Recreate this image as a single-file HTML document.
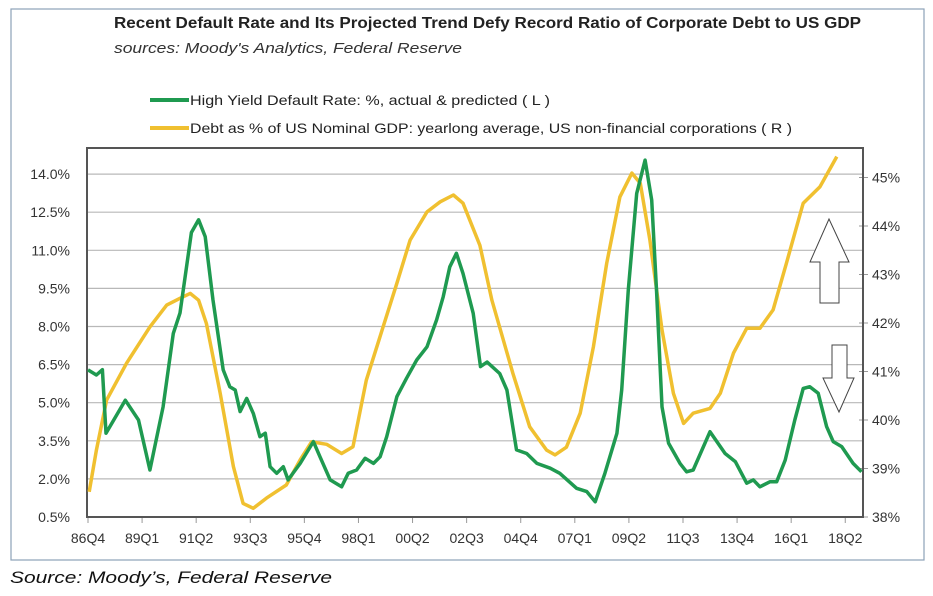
<!DOCTYPE html>
<html><head><meta charset="utf-8">
<style>
html,body{margin:0;padding:0;background:#fff;}
svg{display:block;font-family:"Liberation Sans",sans-serif;}
</style></head>
<body>
<svg id="chart" width="933" height="596" viewBox="0 0 933 596" xmlns="http://www.w3.org/2000/svg">
  <rect x="11" y="9" width="913" height="551" fill="#fff" stroke="#8da2b8" stroke-width="1.2"/>
  <text x="114" y="28" font-size="16" font-weight="bold" fill="#222" textLength="747" lengthAdjust="spacingAndGlyphs">Recent Default Rate and Its Projected Trend Defy Record Ratio of Corporate Debt to US GDP</text>
  <text x="114" y="53" font-size="15" font-style="italic" fill="#333" textLength="348" lengthAdjust="spacingAndGlyphs">sources: Moody's Analytics, Federal Reserve</text>
  <g>
    <line x1="150" y1="100" x2="189" y2="100" stroke="#1f9a50" stroke-width="4"/>
    <text x="190" y="105" font-size="14" fill="#222" textLength="360" lengthAdjust="spacingAndGlyphs">High Yield Default Rate: %, actual &amp; predicted ( L )</text>
  </g>
  <g>
    <line x1="150" y1="128" x2="189" y2="128" stroke="#f0c030" stroke-width="4"/>
    <text x="190" y="133" font-size="14" fill="#222" textLength="602" lengthAdjust="spacingAndGlyphs">Debt as % of US Nominal GDP: yearlong average, US non-financial corporations ( R )</text>
  </g>
  <g id="grid"></g>
  <g id="axes"></g>
  <g id="series"></g>
  <g>
    <polygon points="829,219 849,262 839,262 839,303 820,303 820,262 810,262" fill="#fff" stroke="#444" stroke-width="1"/>
  </g>
  <g>
    <polygon points="832,345 847,345 847,378 854,378 839,412 823,378 832,378" fill="#fff" stroke="#444" stroke-width="1"/>
  </g>
  <text x="10" y="583" font-size="17" font-style="italic" fill="#111" textLength="322" lengthAdjust="spacingAndGlyphs">Source: Moody’s, Federal Reserve</text>
</svg>
<script>
// Data (quarter index: 0 = 86Q4)
const defaultQ = [0,1.4,2.4,3,6.2,8.4,10.3,12.5,14.2,15.3,17.2,18.4,19.5,20.8,22.5,23.6,24.5,25.3,26.4,27.5,28.6,29.5,30.3,31.4,32.5,33.3,35.3,37.5,38.6,40.3,42.2,43.3,44.7,46.1,47.5,48.6,49.7,51.4,53,54.7,56.4,58,59.1,60.2,61.3,62.4,64.1,65.3,66.4,68.5,69.7,71.3,73,74.7,76.9,78.5,81.3,83,84.4,86,88,88.8,89.9,91.3,92.7,93.8,94.6,95.5,96.6,98.5,99.6,100.7,103.5,106,107.7,109.6,110.7,111.8,113.5,114.6,116,117.6,119,120.1,121.5,122.9,124,125.4,127.3,128.7];
const defaultRate = [6.29,6.09,6.3,3.8,5.1,4.32,2.35,4.84,7.73,8.53,11.7,12.2,11.54,9.04,6.29,5.63,5.5,4.65,5.17,4.58,3.66,3.8,2.48,2.22,2.48,1.96,2.61,3.47,2.87,1.96,1.69,2.22,2.35,2.81,2.61,2.87,3.66,5.24,5.96,6.68,7.2,8.26,9.17,10.35,10.88,10.09,8.52,6.42,6.6,6.15,5.5,3.14,3.0,2.61,2.42,2.22,1.63,1.5,1.1,2.22,3.79,5.5,9.44,13.24,14.55,12.98,9.44,4.84,3.4,2.61,2.28,2.35,3.86,3.0,2.68,1.83,1.96,1.69,1.89,1.89,2.74,4.32,5.56,5.63,5.37,4.06,3.47,3.27,2.61,2.28];
const debtQ = [0.2,1.4,3.1,6.4,10.3,13.1,15.3,17,18.4,19.7,22,24.2,25.8,27.5,29.7,33,35.3,37.2,39.7,42.2,44.1,46.3,49.1,51.4,53.6,56.4,58.6,60.8,62.4,65.2,67.2,70.7,73.5,76.3,77.7,79.6,81.9,84.1,86.3,88.5,90.5,91.9,93.5,95.5,97.4,99.1,100.7,103.5,105.2,107.4,109.6,111.8,114,116.2,119,121.8,124.6];
const debtGdp = [38.52,39.38,40.41,41.17,41.92,42.37,42.51,42.61,42.47,41.99,40.55,39.04,38.28,38.18,38.39,38.66,39.18,39.55,39.5,39.31,39.45,40.82,41.92,42.82,43.71,44.29,44.5,44.64,44.47,43.6,42.47,40.96,39.86,39.38,39.28,39.44,40.14,41.51,43.23,44.6,45.09,44.88,43.71,41.86,40.55,39.93,40.14,40.24,40.55,41.38,41.89,41.89,42.27,43.23,44.47,44.81,45.43];
const leftTicks = [0.5,2.0,3.5,5.0,6.5,8.0,9.5,11.0,12.5,14.0];
const rightTicks = [38,39,40,41,42,43,44,45];
const xLabels = ["86Q4","89Q1","91Q2","93Q3","95Q4","98Q1","00Q2","02Q3","04Q4","07Q1","09Q2","11Q3","13Q4","16Q1","18Q2"];
const xLabelQ = [0,9,18,27,36,45,54,63,72,81,90,99,108,117,126];

const L=87,R=863,T=148,B=517;
const xq = q => 88 + q*6.01;
const yl = v => B - (v-0.5)/1.5*38.1;
const yr = v => B - (v-38)*48.5;
const NS="http://www.w3.org/2000/svg";
function mk(tag, attrs, parent){const e=document.createElementNS(NS,tag);for(const k in attrs)e.setAttribute(k,attrs[k]);parent.appendChild(e);return e;}
const grid=document.getElementById('grid'), axes=document.getElementById('axes'), series=document.getElementById('series');

leftTicks.forEach(v=>{
  if(v>0.5){const g=mk('line',{x1:L,x2:R,y1:yl(v),y2:yl(v),stroke:'#b8b8b8','stroke-width':1.2},grid);
  
  }
  const t=mk('text',{x:70,y:yl(v)+5,'font-size':14,'text-anchor':'end',fill:'#333'},axes);
  t.textContent=v.toFixed(1)+'%';
  
  
});
rightTicks.forEach(v=>{
  const tk=mk('line',{x1:R-4,x2:R+5,y1:yr(v),y2:yr(v),stroke:'#999','stroke-width':1},axes);
  
  
  const t=mk('text',{x:872,y:yr(v)+5,'font-size':14,fill:'#333'},axes);
  t.textContent=v+'%';
  
  
});
xLabels.forEach((lab,i)=>{
  const x=xq(xLabelQ[i]);
  const tk=mk('line',{x1:x,x2:x,y1:B,y2:B+6,stroke:'#999','stroke-width':1},axes);
  
  
  const t=mk('text',{x:x,y:543,'font-size':14,'text-anchor':'middle',fill:'#333'},axes);
  t.textContent=lab;
  
  
});
const frame=mk('rect',{x:L,y:T,width:R-L,height:B-T,fill:'none',stroke:'#555','stroke-width':2},axes);



const dy=mk('polyline',{points:debtQ.map((q,i)=>xq(q).toFixed(1)+','+yr(debtGdp[i]).toFixed(1)).join(' '),fill:'none',stroke:'#f0c030','stroke-width':3.5,'stroke-linejoin':'round'},series);


const df=mk('polyline',{points:defaultQ.map((q,i)=>xq(q).toFixed(1)+','+yl(defaultRate[i]).toFixed(1)).join(' '),fill:'none',stroke:'#1f9a50','stroke-width':3.5,'stroke-linejoin':'round'},series);


</script>
</body></html>
